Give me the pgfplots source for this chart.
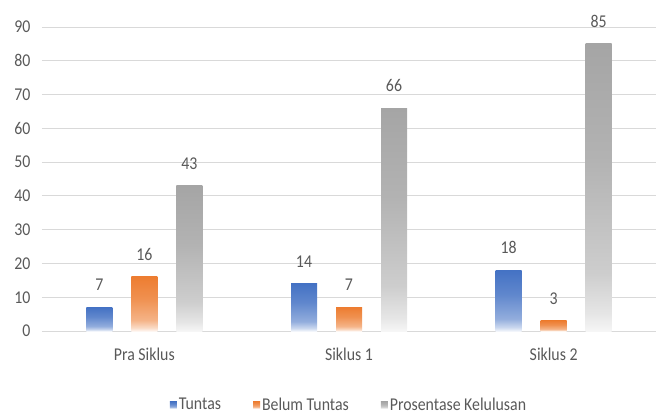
\documentclass[border=0pt]{standalone}
\usepackage{fontspec}
\setmainfont{Carlito}[FakeStretch=0.88]
\usepackage{pgfplots}
\pgfplotsset{compat=1.18}

\definecolor{cBlue}{HTML}{4472C4}
\definecolor{cOrange}{HTML}{ED7D31}
\definecolor{cGray}{HTML}{A5A5A5}
\definecolor{txt}{HTML}{595959}
\definecolor{gridc}{HTML}{D9D9D9}

% vertical fades: solid colour at the top, lighter downwards, almost white at the bottom
\colorlet{cBlueA}{cBlue!85!white}\colorlet{cBlueB}{cBlue!58!white}\colorlet{cBlueC}{cBlue!28!white}\colorlet{cBlueD}{cBlue!7!white}
\colorlet{cOrangeA}{cOrange!85!white}\colorlet{cOrangeB}{cOrange!58!white}\colorlet{cOrangeC}{cOrange!28!white}\colorlet{cOrangeD}{cOrange!7!white}
\colorlet{cGrayA}{cGray!85!white}\colorlet{cGrayB}{cGray!55!white}\colorlet{cGrayC}{cGray!28!white}\colorlet{cGrayD}{cGray!10!white}
\pgfdeclareverticalshading{blueshade}{100bp}{color(0bp)=(cBlueD); color(25bp)=(cBlueD); color(28bp)=(cBlueC); color(35bp)=(cBlueB); color(55bp)=(cBlueA); color(75bp)=(cBlue); color(100bp)=(cBlue)}
\pgfdeclareverticalshading{orangeshade}{100bp}{color(0bp)=(cOrangeD); color(25bp)=(cOrangeD); color(28bp)=(cOrangeC); color(35bp)=(cOrangeB); color(55bp)=(cOrangeA); color(75bp)=(cOrange); color(100bp)=(cOrange)}
\pgfdeclareverticalshading{grayshade}{100bp}{color(0bp)=(cGrayD); color(25bp)=(cGrayD); color(28bp)=(cGrayC); color(35bp)=(cGrayB); color(55bp)=(cGrayA); color(75bp)=(cGray); color(100bp)=(cGray)}

\newcommand{\chartfont}{\fontsize{18bp}{20bp}\selectfont}

% one bar per \addplot, so that each bar gets its own fade
\pgfplotsset{
  tuntas/.style={ybar, bar width=26bp, bar shift=-45bp, draw=none, shade, shading=blueshade,
    every node near coord/.append style={xshift=-45bp}},
  belum/.style={ybar, bar width=26bp, bar shift=0bp, draw=none, shade, shading=orangeshade},
  prosen/.style={ybar, bar width=26bp, bar shift=45bp, draw=none, shade, shading=grayshade,
    every node near coord/.append style={xshift=45bp}},
}

\begin{document}
\begin{tikzpicture}
\begin{axis}[
  width=614bp, height=304bp, scale only axis,
  xmin=-0.5, xmax=2.5, ymin=0, ymax=90,
  ytick={0,10,...,90},
  xtick={0,1,2},
  xticklabels={Pra Siklus, Siklus 1, Siklus 2},
  axis line style={draw=none},
  major tick length=0pt,
  ymajorgrids, grid style={gridc, line width=1bp},
  /pgf/number format/assume math mode=true,
  ticklabel style={font=\chartfont, text=txt},
  yticklabel style={xshift=-8bp},
  xticklabel style={yshift=-13bp},
  nodes near coords,
  every node near coord/.append style={font=\chartfont, text=txt, yshift=13bp},
  legend style={at={(0.5,-0.243)}, anchor=center, draw=none, fill=none,
    font=\chartfont, text=txt, legend columns=3,
    /tikz/every even column/.append style={column sep=30bp}},
  clip=false,
]
\coordinate (o) at (rel axis cs:0,0);
% Tuntas
\addplot[tuntas,
  legend image code/.code={\fill[cBlue] (0bp,-3.5bp) rectangle (7bp,3.5bp);}]
  coordinates {(0,7)};
\addlegendentry{Tuntas}
% Belum Tuntas
\addplot[belum,
  legend image code/.code={\fill[cOrange] (0bp,-3.5bp) rectangle (7bp,3.5bp);}]
  coordinates {(0,16)};
\addlegendentry{Belum Tuntas}
% Prosentase Kelulusan
\addplot[prosen,
  legend image code/.code={\fill[cGray] (0bp,-3.5bp) rectangle (7bp,3.5bp);}]
  coordinates {(0,43)};
\addlegendentry{Prosentase Kelulusan}
% remaining bars of each series
\addplot[tuntas, forget plot] coordinates {(1,14)};
\addplot[tuntas, forget plot] coordinates {(2,18)};
\addplot[belum, forget plot] coordinates {(1,7)};
\addplot[belum, forget plot] coordinates {(2,3)};
\addplot[prosen, forget plot] coordinates {(1,66)};
\addplot[prosen, forget plot] coordinates {(2,85)};
\end{axis}
\pgfresetboundingbox
\path[use as bounding box] (o) ++(-42bp,-83bp) rectangle ++(656bp,414bp);
\end{tikzpicture}
\end{document}
